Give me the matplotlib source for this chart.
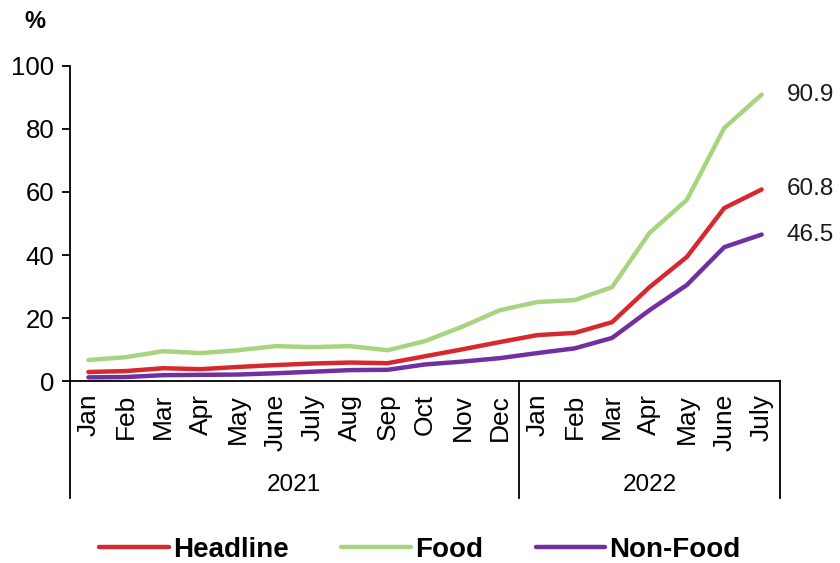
import numpy as np
import matplotlib
matplotlib.use("Agg")
import matplotlib.pyplot as plt
import matplotlib.transforms as mtransforms

plt.rcParams['font.family'] = ['Liberation Sans', 'DejaVu Sans']

months = ["Jan", "Feb", "Mar", "Apr", "May", "June", "July", "Aug", "Sep", "Oct", "Nov", "Dec",
          "Jan", "Feb", "Mar", "Apr", "May", "June", "July"]
years = ["2021", "2022"]
year_counts = [12, 7]

headline = [2.9, 3.2, 4.1, 3.8, 4.5, 5.1, 5.6, 5.9, 5.7, 7.9, 10.1, 12.4,
            14.6, 15.3, 18.7, 29.8, 39.4, 54.9, 60.8]
food = [6.7, 7.6, 9.5, 8.9, 9.8, 11.1, 10.8, 11.1, 9.8, 12.7, 17.3, 22.5,
        25.1, 25.7, 29.8, 47.0, 57.5, 80.3, 90.9]
non_food = [1.2, 1.3, 1.9, 2.0, 2.1, 2.5, 3.0, 3.5, 3.6, 5.3, 6.2, 7.3,
            8.9, 10.4, 13.7, 22.5, 30.5, 42.5, 46.5]

series = [("Headline", headline, "#d7282f"),
          ("Food", food, "#a9d47f"),
          ("Non-Food", non_food, "#7030a0")]

fig = plt.figure(figsize=(8.4, 5.63), dpi=100)
ax = fig.add_axes([0.083, 0.323, 0.846, 0.56])

x = np.arange(len(months))
for name, vals, col in series:
    ax.plot(x, vals, color=col, lw=3.2, label=name, solid_capstyle="round")
    ax.annotate(f"{vals[-1]:.1f}", (x[-1], vals[-1]), xytext=(18, 0),
                textcoords="offset points", va="center", ha="left", fontsize=17.5,
                color="#1a1a1a")

ax.set_xlim(-0.5, len(months) - 0.5)
ax.set_ylim(0, 100)
ax.set_yticks(range(0, 101, 20))
ax.tick_params(axis="y", labelsize=18.5, length=6, width=1.3, direction="out", pad=5)
ax.set_xticks(x)
ax.set_xticklabels(months, rotation=90, fontsize=19)
ax.tick_params(axis="x", length=0, pad=9)
for s in ["top", "right"]:
    ax.spines[s].set_visible(False)
ax.spines["left"].set_linewidth(1.3)
ax.spines["bottom"].set_linewidth(1.3)

# year groups under the month labels
trans = mtransforms.blended_transform_factory(ax.transData, ax.transAxes)
edges = np.concatenate([[0], np.cumsum(year_counts)]) - 0.5
for e in edges:
    ax.plot([e, e], [0, -0.37], transform=trans, color="black", lw=1.3, clip_on=False)
for i, yr in enumerate(years):
    ax.text((edges[i] + edges[i + 1]) / 2, -0.33, yr, transform=trans,
            ha="center", va="center", fontsize=17.5)

fig.text(0.042, 0.961, "%", fontsize=17, fontweight="bold", ha="center", va="center")

leg = fig.legend(loc="center", bbox_to_anchor=(0.5, 0.023), ncol=3, frameon=False,
                 fontsize=20, handlelength=2.5, columnspacing=1.9, handletextpad=0.15)
for t in leg.get_texts():
    t.set_fontweight("bold")

fig.savefig("out.png", dpi=100)
